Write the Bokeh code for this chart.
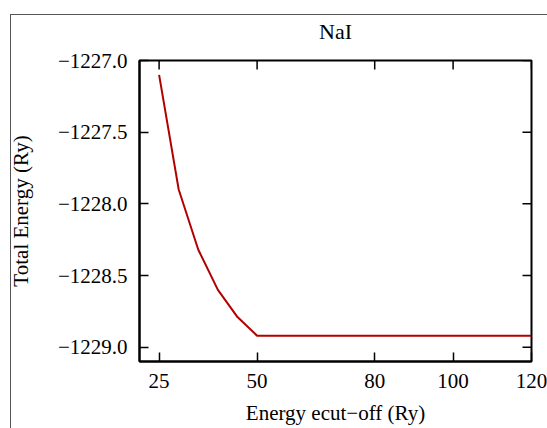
import math
from bokeh.plotting import figure
from bokeh.models import FixedTicker, Range1d
from bokeh.embed import file_html
from bokeh.resources import INLINE

# ---- data ----
title_text = "NaI"
x_label = "Energy ecut\u2212off (Ry)"
y_label = "Total Energy (Ry)"
ecut = [25, 30, 35, 40, 45, 50, 60, 70, 80, 90, 100, 110, 120]
total_energy = [-1227.10, -1227.90, -1228.32, -1228.60, -1228.79, -1228.92,
                -1228.92, -1228.92, -1228.92, -1228.92, -1228.92, -1228.92, -1228.92]
x_ticks = [25, 50, 80, 100, 120]
x_tick_labels = ["25", "50", "80", "100", "120"]
y_ticks = [-1229.0, -1228.5, -1228.0, -1227.5, -1227.0]
y_tick_labels = ["\u22121229.0", "\u22121228.5", "\u22121228.0", "\u22121227.5", "\u22121227.0"]

FONT = "Liberation Serif"
FS = "21px"
X_MIN, X_MAX = 20, 120
Y_MIN, Y_MAX = -1229.1, -1227.0

p = figure(width=547, height=428, output_backend="svg", toolbar_location=None,
           x_range=Range1d(X_MIN, X_MAX), y_range=Range1d(Y_MIN, Y_MAX),
           min_border_left=139, min_border_right=16, min_border_top=59, min_border_bottom=67,
           title=title_text)
p.background_fill_color = "white"
p.border_fill_color = None
p.outline_line_color = "black"
p.outline_line_width = 2
p.grid.visible = False
# thin outer box (top and left edges visible) drawn as page background
p.styles = {
    "background": "linear-gradient(#555555, #555555) 10px 14px / 1px 100% no-repeat, "
                  "linear-gradient(#555555, #555555) 10px 14px / 100% 1px no-repeat, white"
}

p.title.align = "center"
p.title.text_font = FONT
p.title.text_font_size = "22px"
p.title.text_font_style = "normal"
p.title.text_color = "black"
p.title.standoff = 33

p.line(ecut, total_energy, line_color="#b20000", line_width=2)

# mirrored inward ticks on top and right edges
p.ray(x=x_ticks, y=[Y_MAX] * len(x_ticks), length=9, length_units="screen",
      angle=-math.pi / 2, line_color="black", line_width=1.5)
p.ray(x=[X_MAX] * len(y_ticks), y=y_ticks, length=9, length_units="screen",
      angle=math.pi, line_color="black", line_width=1.5)

def style_axis(ax, ticks, labels):
    ax.ticker = FixedTicker(ticks=ticks)
    ax.major_label_overrides = {float(t): l for t, l in zip(ticks, labels)}
    ax.major_tick_in = 9
    ax.major_tick_out = 0
    ax.minor_tick_in = 0
    ax.minor_tick_out = 0
    ax.major_tick_line_color = "black"
    ax.major_tick_line_width = 1.5
    ax.axis_line_color = "black"
    ax.axis_line_width = 2
    ax.major_label_text_font = FONT
    ax.major_label_text_color = "black"
    ax.major_label_text_font_size = FS
    ax.axis_label_text_font = FONT
    ax.axis_label_text_font_size = FS
    ax.axis_label_text_font_style = "normal"
    ax.axis_label_text_color = "black"

xb = p.xaxis[0]
style_axis(xb, x_ticks, x_tick_labels)
xb.major_label_standoff = 12
xb.axis_label = x_label
xb.axis_label_standoff = 10
xb.axis_label_text_line_height = 0.7
xb.major_label_text_line_height = 0.9

yl = p.yaxis[0]
style_axis(yl, y_ticks, y_tick_labels)
yl.major_label_standoff = 12
yl.axis_label = y_label
yl.axis_label_standoff = 22

open("out.html", "w").write(file_html(p, INLINE))
